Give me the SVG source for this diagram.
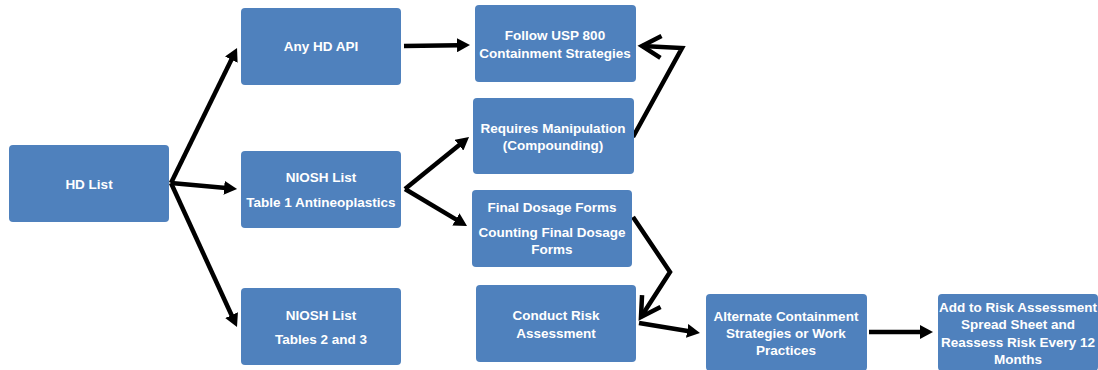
<svg xmlns="http://www.w3.org/2000/svg" width="1098" height="370" viewBox="0 0 1098 370">
<style>
.box{fill:#4F81BD;}
.t{font-family:"Liberation Sans",Arial,sans-serif;font-weight:bold;font-size:13.5px;fill:#ffffff;text-anchor:middle;}
.c{fill:none;stroke:#000;stroke-width:4.5;stroke-linejoin:miter;}
</style>
<defs>
<marker id="ah" markerUnits="userSpaceOnUse" viewBox="0 0 13 14" markerWidth="13" markerHeight="14" refX="2" refY="7" orient="auto">
<path d="M0,0 L13,7 L0,14 z" fill="#000"/>
</marker>
<marker id="oh" markerUnits="userSpaceOnUse" viewBox="-24 -14 30 28" markerWidth="30" markerHeight="28" refX="0" refY="0" orient="auto">
<path d="M-19,-11 L0,0 L-19,11" fill="none" stroke="#000" stroke-width="4.5"/>
</marker>
</defs>
<g id="connectors">
<line class="c" x1="171" y1="183" x2="232.2" y2="57.9" marker-end="url(#ah)"/>
<line class="c" x1="171" y1="183" x2="226.1" y2="188" marker-end="url(#ah)"/>
<line class="c" x1="171" y1="183" x2="232.4" y2="317" marker-end="url(#ah)"/>
<line class="c" x1="404" y1="46" x2="459" y2="45.2" marker-end="url(#ah)"/>
<line class="c" x1="405" y1="189" x2="460.5" y2="143.9" marker-end="url(#ah)"/>
<line class="c" x1="405" y1="189" x2="457.6" y2="220.4" marker-end="url(#ah)"/>
<polyline class="c" points="633,137 682,48 642,46" marker-end="url(#oh)"/>
<polyline class="c" points="633,217 670,272 641,317" marker-end="url(#oh)"/>
<line class="c" x1="639" y1="323" x2="689.1" y2="331.2" marker-end="url(#ah)"/>
<line class="c" x1="869" y1="332" x2="922" y2="332" marker-end="url(#ah)"/>
</g>
<g id="hd-list">
<rect class="box" x="9" y="145" width="160" height="77" rx="4"/>
<text class="t" x="89" y="189">HD List</text>
</g>
<g id="any-hd-api">
<rect class="box" x="241" y="8" width="160" height="77" rx="4"/>
<text class="t" x="321" y="51">Any HD API</text>
</g>
<g id="niosh-table1">
<rect class="box" x="241" y="151" width="160" height="77" rx="4"/>
<text class="t" x="321" y="182">NIOSH List</text>
<text class="t" x="321" y="207">Table 1 Antineoplastics</text>
</g>
<g id="niosh-tables23">
<rect class="box" x="241" y="288" width="160" height="77" rx="4"/>
<text class="t" x="321" y="320">NIOSH List</text>
<text class="t" x="321" y="344">Tables 2 and 3</text>
</g>
<g id="follow-usp">
<rect class="box" x="475" y="5" width="161" height="77" rx="4"/>
<text class="t" x="555" y="40">Follow USP 800</text>
<text class="t" x="555" y="58">Containment Strategies</text>
</g>
<g id="requires-manipulation">
<rect class="box" x="473" y="98" width="161" height="76" rx="4"/>
<text class="t" x="553" y="133">Requires Manipulation</text>
<text class="t" x="553" y="150">(Compounding)</text>
</g>
<g id="final-dosage">
<rect class="box" x="472" y="190" width="160" height="77" rx="4"/>
<text class="t" x="552" y="212">Final Dosage Forms</text>
<text class="t" x="552" y="237">Counting Final Dosage</text>
<text class="t" x="552" y="254">Forms</text>
</g>
<g id="conduct-risk">
<rect class="box" x="476" y="285" width="160" height="77" rx="4"/>
<text class="t" x="556" y="320">Conduct Risk</text>
<text class="t" x="556" y="338">Assessment</text>
</g>
<g id="alternate">
<rect class="box" x="706" y="294" width="161" height="77" rx="4"/>
<text class="t" x="786" y="321">Alternate Containment</text>
<text class="t" x="786" y="338">Strategies or Work</text>
<text class="t" x="786" y="355">Practices</text>
</g>
<g id="add-risk">
<rect class="box" x="938" y="294" width="160" height="77" rx="4"/>
<text class="t" x="1018" y="312">Add to Risk Assessment</text>
<text class="t" x="1018" y="329">Spread Sheet and</text>
<text class="t" x="1018" y="347">Reassess Risk Every 12</text>
<text class="t" x="1018" y="364">Months</text>
</g>
</svg>
